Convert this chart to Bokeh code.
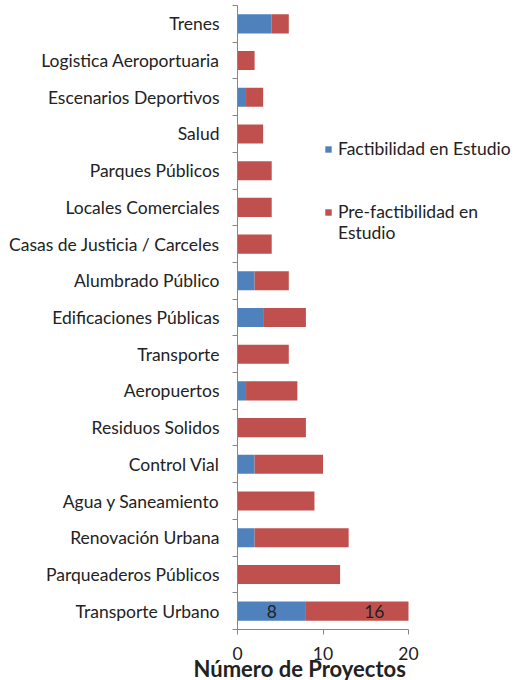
import numpy as np
from bokeh.plotting import figure
from bokeh.models import (ColumnDataSource, FixedTicker, Legend, LegendItem, LabelSet, Title)
from bokeh.core.properties import value
from bokeh.embed import file_html
from bokeh.resources import INLINE

categories = ["Trenes", "Logistica Aeroportuaria", "Escenarios Deportivos", "Salud",
              "Parques Públicos", "Locales Comerciales", "Casas de Justicia / Carceles",
              "Alumbrado Público", "Edificaciones Públicas", "Transporte", "Aeropuertos",
              "Residuos Solidos", "Control Vial", "Agua y Saneamiento", "Renovación Urbana",
              "Parqueaderos Públicos", "Transporte Urbano"]
factibilidad = [4, 0, 1, 0, 0, 0, 0, 2, 3, 0, 1, 0, 2, 0, 2, 0, 8]
prefactibilidad = [2, 2, 2, 3, 4, 4, 4, 4, 5, 6, 6, 8, 8, 9, 11, 12, 16]
series_names = ["Factibilidad en Estudio", "Pre-factibilidad en", "Estudio"]
labeled_category = "Transporte Urbano"
x_ticks = [0, 10, 20]
x_max = 20
axis_title = "Número de Proyectos"

BLUE = "#4F81BD"
RED = "#C0504D"
TXT = "#222222"
AX = "#868686"
FONT = "Lato"

# layout (pixels)
W = 518
LEFT, TOP, BOTTOM = 237, 5, 51
FRAME_H = 624
AXIS_PX = 171          # pixel length of the 0..x_max axis
TITLE_LEFT_PX = -44    # title start, from frame left

frame_w = W - LEFT
x_end = x_max * frame_w / AXIS_PX

n = len(categories)
ypos = [n - 1 - i + 0.5 for i in range(n)]
fact = np.array(factibilidad, dtype=float)
pre = np.array(prefactibilidad, dtype=float)
# the axis stops at x_max: bars are cut there, as in the original
pre_shown = np.minimum(fact + pre, x_max) - np.minimum(fact, x_max)
source = ColumnDataSource(dict(y=ypos, cat=categories, fact=fact, pre=pre_shown))

p = figure(frame_width=frame_w, frame_height=FRAME_H, output_backend="svg",
           toolbar_location=None, x_range=(0, x_end), y_range=(0, n),
           min_border_left=LEFT, min_border_right=0, min_border_top=TOP,
           min_border_bottom=BOTTOM)
p.outline_line_color = None
p.xgrid.visible = False
p.ygrid.visible = False

r = p.hbar_stack(["fact", "pre"], y="y", height=0.52, color=[BLUE, RED], source=source,
                 line_color=None)
dummy = p.scatter(x=[], y=[], fill_alpha=0, line_alpha=0)

# value labels for the labeled category
idx = categories.index(labeled_category)
lab_src = ColumnDataSource(dict(
    x=[factibilidad[idx] / 2, factibilidad[idx] + prefactibilidad[idx] / 2],
    y=[ypos[idx], ypos[idx]],
    t=[str(factibilidad[idx]), str(prefactibilidad[idx])]))
p.add_layout(LabelSet(x="x", y="y", text="t", source=lab_src, text_align="center",
                      text_baseline="middle", text_font=value(FONT), text_font_size="17.5px",
                      text_color=TXT))

# y axis: labels at bar centres, ticks between categories
yax = p.yaxis[0]
yax.ticker = FixedTicker(ticks=ypos, minor_ticks=list(range(n + 1)))
yax.major_label_overrides = {y: c for y, c in zip(ypos, categories)}
yax.major_tick_line_color = None
yax.major_tick_out = 0
yax.minor_tick_in = 0
yax.minor_tick_out = 5
yax.minor_tick_line_color = AX
yax.axis_line_color = AX
yax.major_label_standoff = 13
yax.major_label_text_font = FONT
yax.major_label_text_font_size = "17.5px"
yax.major_label_text_color = TXT

# x axis
xax = p.xaxis[0]
xax.ticker = FixedTicker(ticks=x_ticks)
xax.bounds = (0, x_max)
xax.major_tick_in = 0
xax.major_tick_out = 5
xax.minor_tick_line_color = None
xax.axis_line_color = AX
xax.major_tick_line_color = AX
xax.major_label_standoff = 12
xax.major_label_text_font = FONT
xax.major_label_text_font_size = "17.5px"
xax.major_label_text_color = TXT

# axis title
p.add_layout(Title(text=axis_title, align="left", offset=TITLE_LEFT_PX, standoff=-20,
                   text_font=FONT, text_font_size="22px", text_font_style="bold",
                   text_color=TXT), "below")

common = dict(glyph_width=8, glyph_height=8, label_standoff=6, padding=0, margin=0,
              border_line_color=None, background_fill_alpha=0, label_text_font=FONT,
              label_text_font_size="17.5px", label_text_color=TXT, label_height=18,
              spacing=0)
leg1 = Legend(items=[LegendItem(label=series_names[0], renderers=[r[0]])],
              location=(87, 470), **common)
leg2 = Legend(items=[LegendItem(label=series_names[1], renderers=[r[1]]),
                     LegendItem(label=series_names[2], renderers=[dummy])],
              location=(87, 386), **common)
p.add_layout(leg1, "center")
p.add_layout(leg2, "center")

open("out.html", "w").write(file_html(p, INLINE))
